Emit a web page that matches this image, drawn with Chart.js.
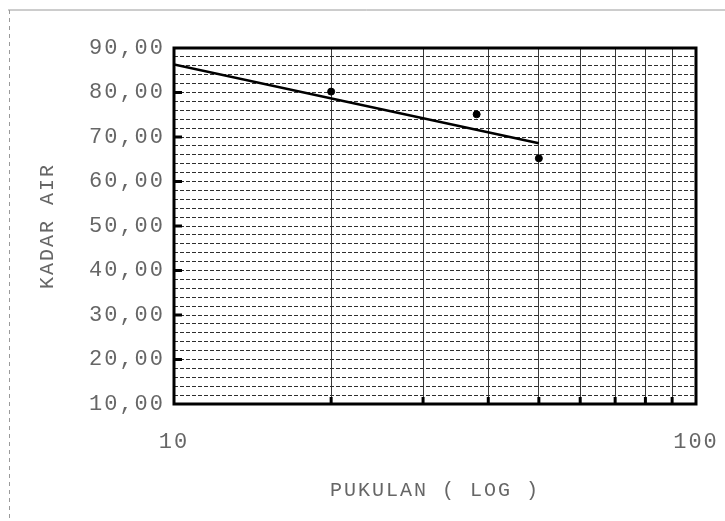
<!DOCTYPE html>
<html lang="id">
  <head>
    <meta charset="UTF-8" />
    <title>Kadar Air vs Pukulan</title>
    <script src="https://cdn.jsdelivr.net/npm/chart.js"></script>
    <style>
      body {
        margin: 0;
        background: #ffffff;
      }
      canvas {
        display: block;
      }
    </style>
  </head>
  <body>
    <canvas id="chart" width="725" height="521"></canvas>

    <script>
      // data
      const pukulan = [20, 38, 50];
      const kadarAir = [80.2, 75.1, 65.2];
      const garisX = [10, 50];
      const garisY = [86.3, 68.6];
      const xTicks = [10, 20, 30, 40, 50, 60, 70, 80, 90, 100];
      const xLabels = [10, 100];

      const monoFont = "'Liberation Mono', 'DejaVu Sans Mono', monospace";
      const textColor = "#666";
      const spacing = "2px";

      // typewriter spacing, thick frame, inward ticks, scanned-page edges
      const frame = {
        id: "frame",
        beforeInit(chart) {
          chart.ctx.letterSpacing = spacing;
        },
        beforeDraw(chart) {
          const c = chart.ctx;
          c.letterSpacing = spacing;
          c.save();
          c.strokeStyle = "#9a9a9a";
          c.lineWidth = 1;
          c.beginPath();
          c.moveTo(8, 10);
          c.lineTo(725, 10);
          c.stroke();
          c.setLineDash([4, 4]);
          c.beginPath();
          c.moveTo(9.5, 10);
          c.lineTo(9.5, 521);
          c.stroke();
          c.restore();
        },
        afterDraw(chart) {
          const c = chart.ctx;
          const a = chart.chartArea;
          const xs = chart.scales.x;
          const ys = chart.scales.y;
          c.save();
          c.strokeStyle = "#000";
          c.lineWidth = 3;
          c.strokeRect(a.left, a.top, a.right - a.left, a.bottom - a.top);
          for (let v = 20; v < 90; v += 10) {
            const y = ys.getPixelForValue(v);
            c.beginPath();
            c.moveTo(a.left, y);
            c.lineTo(a.left + 8, y);
            c.stroke();
          }
          xTicks.slice(1, -1).forEach((v) => {
            const x = xs.getPixelForValue(v);
            c.beginPath();
            c.moveTo(x, a.bottom);
            c.lineTo(x, a.bottom - 7);
            c.stroke();
          });
          c.restore();
        },
      };

      new Chart(document.getElementById("chart"), {
        type: "scatter",
        data: {
          datasets: [
            {
              label: "Data",
              data: pukulan.map((x, i) => ({ x: x, y: kadarAir[i] })),
              backgroundColor: "#000",
              borderColor: "#000",
              pointRadius: 3.5,
            },
            {
              label: "Garis",
              data: garisX.map((x, i) => ({ x: x, y: garisY[i] })),
              showLine: true,
              borderColor: "#000",
              borderWidth: 2.5,
              pointRadius: 0,
            },
          ],
        },
        options: {
          responsive: false,
          animation: false,
          layout: { padding: { top: 48, right: 29, left: 0, bottom: 0 } },
          plugins: {
            legend: { display: false },
            tooltip: { enabled: false },
          },
          scales: {
            x: {
              type: "logarithmic",
              min: 10,
              max: 100,
              afterBuildTicks(scale) {
                scale.ticks = xTicks.map((v) => ({ value: v }));
              },
              afterFit(scale) {
                scale.height = 521 - 404;
                scale.paddingLeft = 0;
                scale.paddingRight = 0;
              },
              border: { display: false },
              grid: {
                drawTicks: false,
                lineWidth: 1,
                color: (ctx) =>
                  ctx.tick && (ctx.tick.value === 10 || ctx.tick.value === 100)
                    ? "rgba(0,0,0,0)"
                    : "#3a3a3a",
              },
              ticks: {
                autoSkip: false,
                maxRotation: 0,
                padding: 25,
                color: textColor,
                font: { family: monoFont, size: 22 },
                callback: (v) => (xLabels.includes(v) ? String(v) : ""),
              },
              title: {
                display: true,
                text: "PUKULAN ( LOG )",
                color: textColor,
                font: { family: monoFont, size: 20 },
                padding: { top: 0, bottom: 18 },
              },
            },
            y: {
              min: 10,
              max: 90,
              afterFit(scale) {
                scale.width = 174;
                scale.paddingTop = 0;
                scale.paddingBottom = 0;
              },
              border: { display: false, dash: [4, 2] },
              grid: {
                drawTicks: false,
                lineWidth: 1,
                color: "#2e2e2e",
              },
              ticks: {
                stepSize: 2,
                autoSkip: false,
                padding: 9,
                color: textColor,
                font: { family: monoFont, size: 22 },
                callback: (v) => (v % 10 === 0 ? v.toFixed(2).replace(".", ",") : ""),
              },
              title: {
                display: true,
                text: "KADAR AIR",
                color: textColor,
                font: { family: monoFont, size: 20 },
                padding: { top: 36, bottom: 0 },
              },
            },
          },
        },
        plugins: [frame],
      });
    </script>
  </body>
</html>
